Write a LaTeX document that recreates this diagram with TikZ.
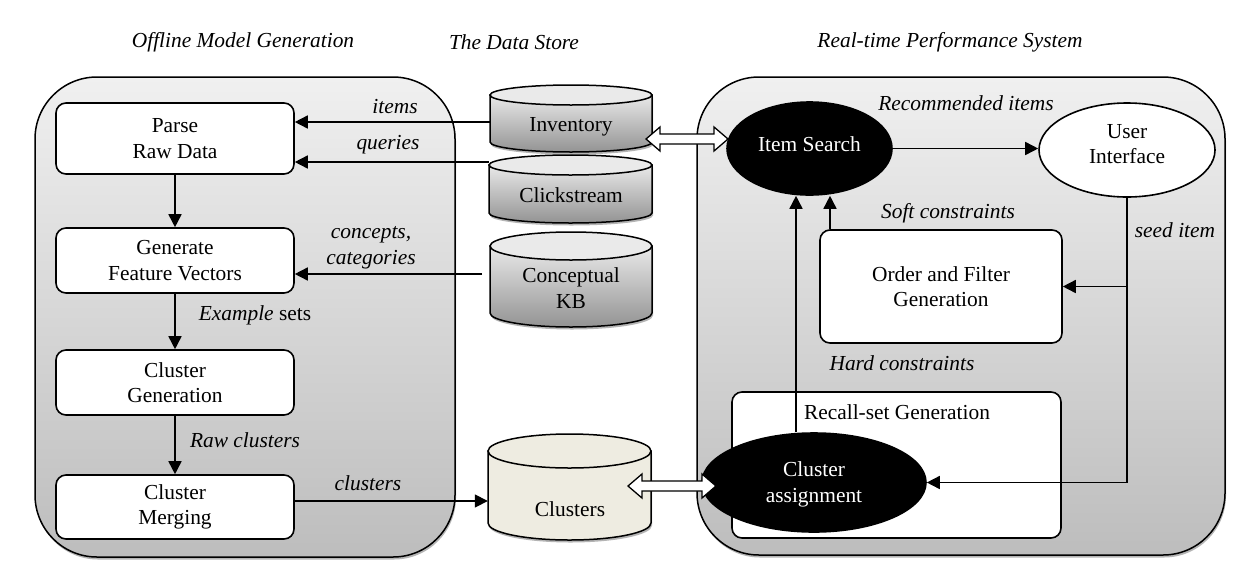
\documentclass[tikz,border=0pt]{standalone}
\usepackage{fontspec}
\setmainfont{Liberation Serif}
\newfontfamily\tnr{Liberation Serif}
\usetikzlibrary{arrows.meta,shapes.geometric,shadows,calc}
\definecolor{panTop}{HTML}{F0F0F0}
\definecolor{panBot}{HTML}{BDBDBD}
\definecolor{cylTop}{HTML}{E9E9E9}
\definecolor{cylBot}{HTML}{939393}
\definecolor{cylCap}{HTML}{EAEAEA}
\definecolor{clusterFill}{HTML}{EEECE1}
\definecolor{shadeGray}{HTML}{B4B4B4}
\newcommand{\fsz}{\tnr\fontsize{21.4pt}{25.5pt}\selectfont}
% name, left x, right x, top-centre y, bottom-centre y, ry, body fill, cap fill
\newcommand{\dbcyl}[8]{%
  \pgfmathsetmacro\cylcx{(#2+#3)/2}%
  \pgfmathsetmacro\cylrx{(#3-#2)/2}%
  \pgfmathsetmacro\cylcy{(#4+#5)/2}%
  \pgfmathsetmacro\cylh{#5-#4+2*#6}%
  \pgfmathsetmacro\cylw{#3-#2}%
  \fill[shadeGray, shift={(1pt,-2.5pt)}] (#2,#4) -- (#2,#5) arc[start angle=180,end angle=360,x radius=\cylrx pt,y radius=#6pt] -- (#3,#4) -- cycle;
  \path[#7, draw=black, line width=1.5pt] (#2,#4) -- (#2,#5) arc[start angle=180,end angle=360,x radius=\cylrx pt,y radius=#6pt] -- (#3,#4) -- cycle;
  \draw[fill=#8, line width=1.5pt] (\cylcx,#4) ellipse[x radius=\cylrx pt, y radius=#6pt];
  \node[inner sep=0pt, minimum width=\cylw pt, minimum height=\cylh pt] (#1) at (\cylcx,\cylcy) {};
}
\newcommand{\dblarrow}[2]{%
  \draw[line width=1.3pt, fill=white] let \p1=(#1), \p2=(#2) in
    (\x1,\y1) -- (\x1+14pt,\y1+12pt) -- (\x1+14pt,\y1+5pt) -- (\x2-14pt,\y1+5pt)
    -- (\x2-14pt,\y1+12pt) -- (\x2,\y1) -- (\x2-14pt,\y1-12pt) -- (\x2-14pt,\y1-5pt)
    -- (\x1+14pt,\y1-5pt) -- (\x1+14pt,\y1-12pt) -- cycle;
}
\tikzset{
  txt/.style={font=\fsz, inner sep=0pt, align=center},
  lbl/.style={font=\fsz\itshape, inner sep=0pt, align=center},
  box/.style={draw, line width=1.6pt, fill=white, rounded corners=10pt, align=center, inner sep=0pt, font=\fsz},
  panel/.style={draw, line width=1.5pt, rounded corners=62pt, top color=panTop, bottom color=panBot,
    drop shadow={shadow xshift=1pt, shadow yshift=-2.5pt, fill=shadeGray, opacity=1}},
  oval/.style={ellipse, draw, line width=1.6pt, inner sep=0pt, align=center, font=\fsz},
  conn/.style={line width=1.6pt, -{Triangle[length=13pt,width=13pt]}},
}
\begin{document}
\begin{tikzpicture}[x=1pt,y=-1pt]
\fill[white] (0,0) rectangle (1257,584);
\useasboundingbox (0,0) rectangle (1257,584);

% titles
\node[lbl] (t1) at (243,42) {Offline Model Generation};
\node[lbl] (t2) at (514,42) {The Data Store};
\node[lbl] (t3) at (950,42) {Real-time Performance System};

% panels
\node[panel, minimum width=420pt, minimum height=480pt] (offline) at (245,317) {};
\node[panel, minimum width=528pt, minimum height=478pt] (online) at (961,316) {};

% offline boxes
\node[box, minimum width=238pt, minimum height=71pt] (parse) at (175,138.5) {Parse\\Raw Data};
\node[box, minimum width=238pt, minimum height=65pt] (gen) at (175,260.5) {Generate\\Feature Vectors};
\node[box, minimum width=238pt, minimum height=65pt] (cgen) at (175,382.5) {Cluster\\Generation};
\node[box, minimum width=238pt, minimum height=64pt] (merge) at (175,507) {Cluster\\Merging};

\draw[conn] (parse) -- (gen);
\draw[conn] (gen) -- (cgen);
\draw[conn] (cgen) -- (merge);

\node[lbl] (lItems) at (395,107) {items};
\node[lbl] (lQueries) at (388,145) {queries};
\node[lbl] (lConcepts) at (371,247.5) {concepts,\\categories};
\node[txt] (lExample) at (255,315) {\textit{Example} sets};
\node[lbl] (lRaw) at (245,440) {Raw clusters};
\node[lbl] (lClusters) at (368,483) {clusters};

% data store
\dbcyl{inv}{490}{652}{95}{142}{10}{top color=cylTop, bottom color=cylBot}{cylCap}
\dbcyl{click}{489}{652}{165}{213}{10}{top color=cylTop, bottom color=cylBot}{cylCap}
\dbcyl{kb}{490}{652}{246}{313}{14}{top color=cylTop, bottom color=cylBot}{cylCap}
\dbcyl{clu}{488}{651}{451}{523}{17}{fill=clusterFill}{clusterFill}
\node[txt] (invT) at (571,127) {Inventory};
\node[txt] (clickT) at (571,195) {Clickstream};
\node[txt] (kbT) at (571,288) {Conceptual\\KB};
\node[txt] (cluT) at (570,509) {Clusters};

\draw[conn] (inv.west |- 0,122) -- (parse.east |- 0,122);
\draw[conn] (click.west |- 0,162) -- (parse.east |- 0,162);
\coordinate (kbend) at (482,274);
\draw[conn] (kbend) -- (gen.east |- kbend);
\draw[conn] (merge.east |- 0,501) -- (clu.west |- 0,501);

% real-time system
\node[box, minimum width=242pt, minimum height=113pt] (ofg) at (941,286.5) {Order and Filter\\Generation};
\node[box, minimum width=329pt, minimum height=146pt] (rsg) at (896.5,465) {};
\node[txt] (rsgT) at (897,412) {Recall-set Generation};

\node[oval, fill=black, text=white, minimum width=165pt, minimum height=93pt] (is) at (809.5,148.5) {\raisebox{8pt}{Item Search}};
\node[oval, fill=white, minimum width=176pt, minimum height=94pt] (ui) at (1127,150) {};
\node[txt] (uiT) at (1127,144) {User\\Interface};
\node[oval, fill=black, minimum width=224pt, minimum height=99pt] (ca) at (814,482.5) {};
\node[txt, text=white] (caT) at (814,484.5) {Cluster\\assignment};

\coordinate (hx) at (796,0);
\coordinate (sx) at (830,0);
\draw[conn] (hx |- ca.north) -- (hx |- is.south);
\draw[conn] (sx |- ofg.north) -- (sx |- is.south);
\draw[conn] (is.east) -- (is.east -| ui.west);
\draw[conn] (ui.south) |- (ca.east);
\draw[conn] (ui.south |- ofg.east) -- (ofg.east);

\node[lbl] (lRec) at (966,103) {Recommended items};
\node[lbl] (lSoft) at (948,213) {Soft constraints};
\node[lbl] (lHard) at (902,363) {Hard constraints};
\node[lbl] (lSeed) at (1175,230) {seed item};

% double arrows
\coordinate (d1a) at (646,139);
\coordinate (d1b) at (728,139);
\coordinate (d2a) at (628,486);
\coordinate (d2b) at (716,486);
\dblarrow{d1a}{d1b}
\dblarrow{d2a}{d2b}
\end{tikzpicture}
\end{document}
